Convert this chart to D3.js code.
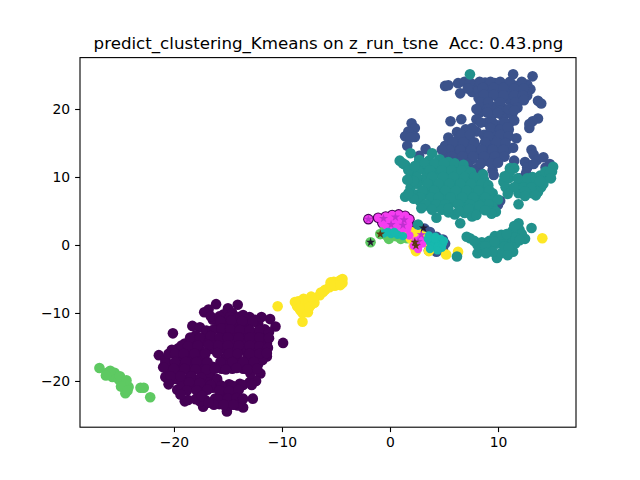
<!DOCTYPE html>
<html>
<head>
<meta charset="utf-8">
<script src="https://d3js.org/d3.v7.min.js"></script>
<style>
  html, body { margin: 0; background: #fff; }
  text { font-family: "DejaVu Sans", sans-serif; }
</style>
</head>
<body>
<svg id="chart" width="640" height="480"></svg>
<script>
// points, [x, y] in t-SNE units
const purple = [
  [-21.4,-16.2],[-20.1,-13],[-9.9,-14.4],[-16.1,-8.7],[-16.8,-9.5],[-14.1,-8.8],[-15,-9.3],[-11.1,-10.9],[-10.6,-12],[-12,-18.9],
  [-12.4,-20],[-12.7,-22.6],[-19,-23],[-18.7,-22.8],[-17.3,-23.8],[-15.1,-24.5],[-13.6,-23.9],[-19.7,-21.3],[-20.8,-16.9],[-20.8,-19.4],
  [-18.3,-11.9],[-17.6,-12.1],[-16.4,-11],[-13,-10.6],[-11.9,-10.6],[-17.2,-9.9],[-15.4,-10.2],[-14.6,-10],[-14,-10.6],[-15.2,-11.4],
  [-14.3,-11.8],[-13.2,-11.9],[-12.2,-11.6],[-11.6,-12.4],[-16,-12.2],[-17,-13],[-18,-13.3],[-15.4,-12.9],[-14.5,-13],[-13.6,-13],
  [-12.6,-13],[-11.7,-13.4],[-11.4,-14.5],[-12.4,-14.2],[-13.4,-14.2],[-14.4,-14.3],[-15.3,-14.1],[-16.2,-14],[-17.2,-14.2],[-18.2,-14.4],
  [-19,-14.5],[-19.6,-15.2],[-20.2,-15.4],[-18.6,-15.3],[-17.6,-15.4],[-16.6,-15.3],[-15.6,-15.2],[-14.6,-15.4],[-13.6,-15.4],[-12.6,-15.4],
  [-11.8,-15.6],[-11.4,-16.4],[-12.2,-16.6],[-13.2,-16.5],[-14.2,-16.6],[-15.2,-16.5],[-17.6,-16.6],[-18.6,-16.5],[-19.6,-16.6],[-20.3,-17.6],
  [-19.4,-17.7],[-18.4,-17.7],[-17.4,-17.8],[-16.4,-17.9],[-15,-17.7],[-14,-17.7],[-13,-17.7],[-12.2,-17.5],[-11.8,-16.9],[-14.6,-18.2],
  [-13.6,-18.2],[-15.6,-18.2],[-20.4,-18.5],[-19.5,-18.7],[-18.5,-18.8],[-17.4,-18.9],[-16.6,-19.2],[-19.9,-19.7],[-18.9,-19.8],[-17.9,-19.9],
  [-16.9,-20.2],[-15.9,-20.4],[-14.9,-20.5],[-13.9,-20.4],[-13,-20.2],[-12.9,-18.9],[-19.3,-20.6],[-18.3,-20.8],[-17.4,-21],[-16.4,-21],
  [-15.4,-21.1],[-14.4,-21],[-17.8,-22.6],[-17.1,-22.8],[-16.2,-22.6],[-15.4,-22.4],[-14.7,-22],[-14.6,-23],[-13.8,-23],[-15.8,-23.4],
  [-14.9,-23.6],[-15.5,-21.8],[-14.1,-23.6],[-17.6,-23],
  [-16.6,-10.5],[-15.8,-10.5],[-14.8,-10.6],[-13.6,-10.3],[-12.5,-11],[-15.7,-11.2],[-14.7,-11.1],[-13.7,-11.2],[-12.7,-11.3],[-17,-12.6],
  [-16.4,-12.5],[-15.6,-12.3],[-14.8,-12.4],[-13.9,-12.5],[-13,-12.5],[-12.1,-12.5],[-11.2,-12.8],[-18.5,-13.6],[-17.6,-13.6],[-16.6,-13.4],
  [-15.8,-13.6],[-15,-13.6],[-14,-13.6],[-13,-13.6],[-12.1,-13.6],[-11.2,-13.7],[-19.3,-14.8],[-18.7,-14.9],[-17.8,-14.8],[-16.8,-14.7],
  [-15.9,-14.8],[-15,-14.8],[-14,-14.8],[-13,-14.8],[-12.1,-14.9],[-11.3,-15.1],[-20.5,-16],[-19.9,-16],[-19.1,-16],[-18.1,-16],
  [-17.1,-16],[-16,-15.9],[-14.9,-16],[-14.1,-16],[-13,-16],[-12.1,-16],[-11.4,-15.9],[-20.8,-17.4],[-19.9,-17.2],[-18.9,-17.2],
  [-17.9,-17.2],[-16.9,-17.2],[-15.7,-17.2],[-14.6,-17.2],[-13.6,-17.2],[-12.6,-17.2],[-20,-18.2],[-19,-18.2],[-18,-18.3],[-17,-18.3],
  [-16.2,-18.2],[-15.2,-18.3],[-14.2,-18.1],[-13.2,-18.3],[-12.3,-18.2],[-20.3,-19.3],[-19.4,-19.3],[-18.4,-19.3],[-17.5,-19.5],[-16,-19.7],
  [-18.6,-20.2],[-17.6,-20.3],[-16.6,-20.6],[-15.6,-20.7],[-14.6,-20.7],[-13.6,-20.6],[-12.8,-20.6],[-18.8,-21.4],[-17.9,-21.4],[-16.9,-21.3],
  [-15.8,-21.4],[-14.9,-21.5],[-14,-21.3],[-18,-22.7],[-17.4,-22.2],[-15.9,-22.7],[-15,-22.6],[-14.2,-22.5],[-13.6,-22.6],[-16.3,-23.5],
  [-15.4,-23.5],[-14.5,-23.5],[-16.8,-23.2],[-21,-18],[-20.5,-20.5],[-19.4,-22]
];
const blue = [
  [11.4,25.1],[13.2,24.8],[5.1,23.4],[5.4,23.5],[6.3,23.8],[6.5,22.3],[7.6,22.5],[7.9,23.6],[8.8,23.9],[9.7,23.8],
  [10.6,23.6],[11.6,23.4],[12.7,23.6],[13,22.9],[8.2,22.8],[9.1,22.6],[10,22.7],[11,22.6],[12,22.5],[12.7,22],
  [8.2,21.6],[9.1,21.6],[10,21.6],[11,21.4],[12,21.2],[11.4,20.4],[8.6,20.6],[9.6,20.3],[10.6,20],[8.3,19.5],
  [9.4,19],[10.5,18.8],[11.3,19.2],[8,18.5],[9,18],[10,17.6],[11,17.8],[11,17],[8,16.7],[9.6,16.5],
  [10.5,16],[7,17],[6.2,16.6],[5.4,15.8],[6.3,15.6],[7.3,15.6],[9.4,15.4],[10.4,15],[5.1,14.6],[6,14.6],
  [7,14.4],[8,14.4],[9,14.3],[10,14.2],[10.8,14],[5.2,13.4],[6.2,13.4],[7.2,13.3],[8.2,13.4],[9.2,13.2],
  [10.3,13],[7.6,12.6],[8.9,12.4],[6.6,12.5],[13.7,21.2],[14,20.8],[13.7,18.6],[13.2,18.2],[12.9,17.2],[12.9,17.8],
  [2,17.9],[2.3,17.2],[1.7,16.7],[1.4,16],[2.3,15.9],[1.9,15.8],[1.6,14.6],[3.3,14.1],[2.7,13.1],[5.6,18.2],
  [6.6,18.5],[11.7,15.7],[11.4,14.3],[13.1,14],[13.3,13.3],[11.5,12.4],[12.5,12.2],[13.6,12.5],[14.2,12.9],[14.8,11.9],
  [12.7,11.4],[13.3,11.9],[12,9.8],[12.6,10.6],[7.4,11.3],[8.1,11.3],[9.5,11],[9.6,10.3],[8.6,9.3],[10,5.9],
  [10.2,6.5],[8.4,10.6],[14.4,11.4],
  [8.3,24],[9.3,24],[10.2,24],[11.1,24],[12.2,24],[6.9,24],[7.4,23.9],[7.2,23],[8.6,23.1],[9.6,23.1],
  [10.5,23.1],[11.5,23],[12.4,23],[8.7,22.1],[9.6,22.1],[10.5,22],[11.5,22],[12.3,22],[8.4,21],[9.1,21],
  [10.2,21],[11.6,21],[12.4,21.3],[8,20],[9,20],[10.2,19.8],[11,20],[11.8,20.2],[9,19.5],[10,19.4],
  [11.5,19.8],[8.4,18],[9.5,18],[10.6,18],[11.5,18.3],[7.6,17.2],[9.3,17.2],[10.2,17],[10.9,17.3],[7,16.5],
  [6.6,16.2],[7.4,16.2],[8.7,16.2],[9.1,16],[10.2,16.2],[11,16],[5.8,15.1],[6.8,15.1],[7.8,15.1],[8.8,15.1],
  [9.9,15.1],[10.7,15],[5.5,14],[6.5,14],[7.5,14],[8.5,14],[9.5,14],[10.5,14],[4.8,14],[5.7,13],
  [6.7,13],[7.7,13],[8.7,13],[9.7,13],[10.6,13],[6,12],[7.1,12],[8.4,12],[9.4,12],[10,12.1]
];
const teal = [
  [7.4,25.1],[0.9,12.4],[1.4,11.8],[1.9,13.5],[3.9,13.5],[2,10.3],[1.9,8.4],[1.4,7.1],[2.5,7.4],[2.7,12.5],
  [3.2,11.6],[3.6,12.4],[4.6,12.6],[5.4,12.2],[4.3,11.6],[5.2,11.3],[6.2,11.4],[7,11],[3.4,10.5],[4.4,10.5],
  [5.4,10.2],[6.4,10.3],[7.3,10],[8.2,9.6],[3,9.5],[4,9.3],[4.9,9.2],[6,9.2],[7,9],[8,8.8],
  [3.6,8.4],[4.6,8.2],[5.6,8.2],[6.6,8.2],[7.6,7.9],[8.8,8],[9.5,7.6],[3.2,7.5],[5.1,7.3],[6.2,7.1],
  [7.2,7],[8.2,7.1],[9.4,6.8],[10,6.7],[2.8,6.4],[3.8,6.3],[4.6,6.2],[5.6,6.2],[6.8,6],[8,6.2],
  [9.5,5.6],[3.4,5.8],[4.3,4],[6.5,3.2],[6,4.5],[6.9,4.7],[8.1,5.2],[11.9,6],[11.1,11.3],[11.5,11.3],
  [10.5,9.3],[11,8.1],[11.9,7.6],[13.2,7.6],[13.7,7.8],[14.4,9.8],[15,10.8],[15.1,11.5],[12.3,9.3],[12.9,9],
  [13.4,8.8],[11.7,8.6],[13.9,10.2],[13.2,10],[14.4,10.8],[7.1,1.2],[7.4,1],[8.1,-1.2],[8.5,.4],[9.3,-.3],
  [9.7,1.3],[9.9,-1.9],[10.6,-.8],[11.4,-1],[11.1,1.2],[11.9,3.2],[12,2.2],[13.1,2.5],[12.5,.9],[11.9,.8],
  [10.8,.4],[8.6,-.8],[8.1,0],[9.2,.6],[9.9,.2],[10.3,-1.2],[11.6,.2],[12.2,1.6],[11.3,2],[10.4,.8],
  [6.2,-1.7],[2.6,3],
  [3.2,12],[4.1,12],[5,12],[6,12],[6.8,11.8],[2.6,11],[3.7,11],[4.8,11],[5.7,11],[6.6,11],
  [7.5,10.7],[8.6,10.4],[2.5,10],[3.9,10],[4.9,10],[5.9,10],[6.9,10],[7.8,10],[8.7,9.6],[2.5,9],
  [3.5,9],[4.5,9],[5.5,9],[6.5,9],[7.5,9],[8.5,9],[9.1,8.8],[3,8],[4.1,8],[5.1,8],
  [6.1,8],[7.1,8],[8.2,8],[9.2,8],[2.8,7],[3.8,7],[4.5,7],[5.6,7],[6.7,7],[7.7,7],
  [8.8,7],[3.3,6],[4.3,6],[5.1,6],[6.3,6],[7.4,6],[8.6,6],[9.1,6],[6.4,5],[7.3,5.3],
  [8.3,5.8],[9.3,5],[11,9.8],[11.8,9.8],[12.7,9.8],[13.5,9.8],[10.7,8.5],[11.5,8.5],[12.4,8.5],[13.1,8.5],
  [14,8.5],[12.5,7.9],[14.8,10.6],[7.8,.6],[8.8,-.2],[9.5,-1],[9.7,.5],[10.6,-.2],[11,-.4],[11.6,1.1],
  [12,.7],[11.5,2.8],[10.9,-1.5],[8.9,-1.2],[10.3,1.5],[10.8,1.6],
  [1.2,12],[1.7,11],[2.3,11.6],[2.2,9.4],[1.6,9.6],[2.9,5.4],[3.9,5.2],[4.8,5.2],[5.4,4.8],[5.4,5.4],
  [2.2,6.8],[1.7,7.6],[7.6,4.2],[8,4.4],[9.8,4.9],[9.4,4.6],[8.8,5.1],[10.9,7.5],[12.5,7.2],[13.5,7.3],
  [14.2,9],[14.9,9.8],[13.9,9.4],[11.1,10.8],[10.6,10.1]
];
const green = [
  [-26.9,-18.1],[-26.2,-18.8],[-25.9,-19.1],[-25.5,-18.8],[-25.7,-19.4],[-25.1,-19.8],[-24.7,-20.2],[-24.4,-20.4],[-24.6,-21],[-24.5,-21.8],
  [-24.2,-20.9],[-23.1,-21],[-22.8,-21],[-22.2,-22.4],[-25.9,-18.5],[-26.3,-19.2],[-25,-19.3],[-24.4,-19.9],[-24.9,-20.8],[-24.3,-21.4],
  [-1.8,.4],[-.9,1.6],[-.4,1.5],[0,1.4],[.6,1.3],[1.2,1.1],[1.6,1],[.2,2],[.9,1.9],[-.5,2.2],[-.1,.9],[1,.9],[.5,2.4]
];
const yellow = [
  [-10.4,-9],[-8.6,-9],[-8.2,-8.6],[-8.3,-9.6],[-7.8,-8.2],[-7.4,-8.3],[-7,-7.8],[-8.1,-10],[-7.6,-9.9],[-8.1,-11.3],
  [-7.7,-8.9],[-6.4,-7],[-6,-6.6],[-5.6,-6.2],[-5.2,-5.4],[-4.9,-5.6],[-4.6,-5.2],[-4.4,-5],[-4.4,-5.6],[-6.5,-7.4],
  [-7.3,-8.8],[-8,-7.9],[-8.5,-8.3],[-7.5,-9.2],[-5.5,-5.5],[-8.8,-8.4],[-8.4,-9.3],[-7,-8.5],[-7.3,-7.6],[-6.2,-6.9],
  [-5.1,-6],[-4.6,-5.9],
  [14.1,1],[5.2,-1.4],[6.3,-1],[2.4,-.9],[3.6,-.9],[2.2,-.2],[1.9,1],[2.7,1.6],[1.6,2],[3.2,1.2],[3.5,.6],[2,1.9],[2.6,.5]
];
const darkBlueCore = [
  [3.2,2.4],[3.7,1.9],[3.4,1.5],[4.3,1.2],[4.9,.8],[5.1,.2],[3.6,-.8],[4.3,-1],[4.9,-.6],[4.2,.2]
];
const darkPurpleCore = [
  [-2,3.8],[-1.1,4],[-.4,4.2],[.2,4.4],[.8,4.5],[1.4,4.3],[1.8,3.8],[-.7,3.2],[.2,3.2],[1.1,3.1],[1.9,2.8],[.5,2.6]
];
const magenta = [
  [-2,3.8],[-1.1,4],[-.4,4.2],[.2,4.4],[.8,4.5],[1.4,4.3],[1.8,3.8],[-.7,3.2],[.2,3.2],[1.1,3.1],[1.7,2.9],[.5,2.6],
  [-.2,3.7],[.7,3.7],[1.2,3.7],[.3,2.2],[1.1,2.4],[-.3,2.8],[.8,3],[1.6,2.4],[2.4,.6],[2.8,.9],[2.2,-.1],[2.6,-.6],[3,.2],[1.8,1.4]
];
const cyan = [
  [-.6,1.7],[.1,1.6],[.7,1.5],[1.2,1.3],[-.2,1.9],[.4,1.9],
  [3.6,1.4],[4.2,1.2],[4.7,.9],[3.7,.4],[4.3,.4],[4.9,.2],[3.8,-.2],[4.4,-.3],[4.8,-.4],[5,.6],[4.1,.9],[3.7,-.6],[4.4,-.8],[3.5,.9]
];
const darkStars = [[-1.8,.4],[3.1,2.5]];
const brownStars = [[-.9,1.6],[2.3,.4],[2.4,-.1]];
const pinkStars = [[-2,3.8],[-.6,3.9],[.5,4.1],[1.3,3.7],[.1,3],[1.2,2.9],[2.6,.5],[2.9,1.5]];
const xTicks = [-20,-10,0,10];
const yTicks = [-20,-10,0,10,20];
const titleText = "predict_clustering_Kmeans on z_run_tsne  Acc: 0.43.png";

const width = 640, height = 480;
const margin = {top: 57.6, right: 64, bottom: 52.8, left: 80};

const svg = d3.select("#chart");

const x = d3.scaleLinear().domain([-28.7, 17.22]).range([margin.left, width - margin.right]);
const y = d3.scaleLinear().domain([-26.8, 27.56]).range([height - margin.bottom, margin.top]);

function dots(data, color, r) {
  svg.append("g").selectAll("circle")
    .data(data)
    .enter().append("circle")
    .attr("cx", d => x(d[0]))
    .attr("cy", d => y(d[1]))
    .attr("r", r)
    .attr("fill", color);
}

function stars(data, color, size) {
  svg.append("g").selectAll("path")
    .data(data)
    .enter().append("path")
    .attr("d", d3.symbol(d3.symbolStar, size))
    .attr("transform", d => `translate(${x(d[0])},${y(d[1])})`)
    .attr("fill", color);
}

dots(purple, "#440154", 5.3);
dots(darkPurpleCore, "#440154", 5.3);
dots(blue, "#3b528b", 5.3);
dots(darkBlueCore, "#3b528b", 5.3);
dots(green, "#5ec962", 5.3);
dots(yellow, "#fde725", 5.3);
dots(teal, "#21918c", 5.3);
dots(magenta, "#f53df0", 4.2);
dots(cyan, "#17b8ae", 4.2);
stars(pinkStars, "#c030d0", 26);
stars(brownStars, "#5a3a10", 26);
stars(darkStars, "#221a30", 26);

// axes
const axisBottom = svg.append("g")
  .attr("transform", `translate(0,${height - margin.bottom})`)
  .call(d3.axisBottom(x).tickValues(xTicks).tickSize(4.9).tickPadding(4.9).tickFormat(d => String(d).replace("-", "\u2212")));
const axisLeft = svg.append("g")
  .attr("transform", `translate(${margin.left},0)`)
  .call(d3.axisLeft(y).tickValues(yTicks).tickSize(4.9).tickPadding(4.9).tickFormat(d => String(d).replace("-", "\u2212")));

[axisBottom, axisLeft].forEach(a => {
  a.selectAll("text").attr("font-size", 13.9).attr("fill", "#000").attr("font-family", "DejaVu Sans");
  a.selectAll("line").attr("stroke", "#000").attr("stroke-width", 1.1);
  a.select(".domain").remove();
});

// frame
svg.append("rect")
  .attr("x", margin.left).attr("y", margin.top)
  .attr("width", width - margin.left - margin.right)
  .attr("height", height - margin.top - margin.bottom)
  .attr("fill", "none").attr("stroke", "#000").attr("stroke-width", 1.1);

svg.append("text")
  .attr("x", (margin.left + width - margin.right) / 2 + 0.5)
  .attr("y", 49)
  .attr("text-anchor", "middle")
  .attr("font-size", 16.67)
  .attr("xml:space", "preserve")
  .style("white-space", "pre")
  .text(titleText);
</script>
</body>
</html>
